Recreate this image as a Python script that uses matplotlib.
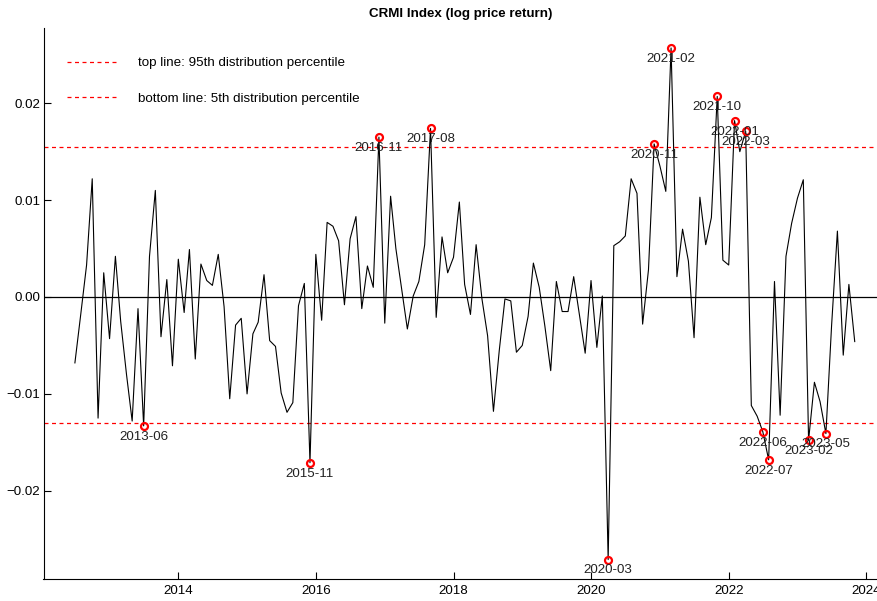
import numpy as np
import pandas as pd
import matplotlib
matplotlib.use("Agg")
import matplotlib.pyplot as plt
import matplotlib.dates as mdates
from matplotlib.ticker import FuncFormatter

# ---------------- data ----------------
start_month = "2012-06"
n_months = 137
returns = [
    -0.0068, -0.0018, 0.0033, 0.0122, -0.0125, 0.0025, -0.0043,            # 2012-06 .. 2012-12
    0.0042, -0.0025, -0.0080, -0.0128, -0.0012, -0.0133, 0.0042, 0.0110,   # 2013-01 .. 2013-08
    -0.0041, 0.0018, -0.0071, 0.0039,                                        # 2013-09 .. 2013-12
    -0.0016, 0.0049, -0.0064, 0.0034, 0.0017, 0.0012, 0.0044, -0.0010,     # 2014-01 .. 2014-08
    -0.0105, -0.0029, -0.0022, -0.0100,                                      # 2014-09 .. 2014-12
    -0.0038, -0.0026, 0.0023, -0.0045, -0.0051, -0.0099, -0.0119, -0.0109, # 2015-01 .. 2015-08
    -0.0009, 0.0014, -0.0171, 0.0044,                                        # 2015-09 .. 2015-12
    -0.0024, 0.0077, 0.0073, 0.0058, -0.0008, 0.0060, 0.0083, -0.0012,     # 2016-01 .. 2016-08
    0.0032, 0.0010, 0.0165, -0.0027,                                         # 2016-09 .. 2016-12
    0.0104, 0.0050, 0.0008, -0.0033, 0.0001, 0.0016, 0.0054, 0.0174,       # 2017-01 .. 2017-08
    -0.0021, 0.0062, 0.0025, 0.0041,                                         # 2017-09 .. 2017-12
    0.0098, 0.0013, -0.0018, 0.0054, -0.0002, -0.0040, -0.0118, -0.0055,   # 2018-01 .. 2018-08
    -0.0002, -0.0004, -0.0057, -0.0050,                                      # 2018-09 .. 2018-12
    -0.0020, 0.0035, 0.0010, -0.0030, -0.0076, 0.0016, -0.0015, -0.0015,   # 2019-01 .. 2019-08
    0.0021, -0.0019, -0.0058, 0.0017,                                        # 2019-09 .. 2019-12
    -0.0052, 0.0001, -0.0271, 0.0053, 0.0057, 0.0063, 0.0122, 0.0107,      # 2020-01 .. 2020-08
    -0.0028, 0.0028, 0.0158, 0.0135,                                         # 2020-09 .. 2020-12
    0.0109, 0.0257, 0.0021, 0.0070, 0.0037, -0.0042, 0.0103, 0.0054,       # 2021-01 .. 2021-08
    0.0082, 0.0207, 0.0038, 0.0033,                                          # 2021-09 .. 2021-12
    0.0182, 0.0150, 0.0171, -0.0112, -0.0123, -0.0139, -0.0168, 0.0016,    # 2022-01 .. 2022-08
    -0.0122, 0.0042, 0.0076, 0.0102,                                         # 2022-09 .. 2022-12
    0.0121, -0.0148, -0.0088, -0.0108, -0.0141, -0.0030, 0.0068, -0.0060,  # 2023-01 .. 2023-08
    0.0013, -0.0046,                                                         # 2023-09 .. 2023-10
]
upper_pct = 0.01551   # 95th distribution percentile
lower_pct = -0.01297  # 5th distribution percentile
title = "CRMI Index (log price return)"
legend_labels = ["top line: 95th distribution percentile",
                 "bottom line: 5th distribution percentile"]
year_ticks = [2014, 2016, 2018, 2020, 2022, 2024]
y_ticks = [-0.02, -0.01, 0.0, 0.01, 0.02]

# ---------------- plot ----------------
plt.rcParams['font.family'] = ['Liberation Sans', 'DejaVu Sans']
FS = 9.6

dates = pd.date_range(start=start_month, periods=n_months, freq="ME")
vals = np.array(returns)

W, H = 877, 601
fig = plt.figure(figsize=(W / 100, H / 100), dpi=100)
ax_left, ax_right, ax_top, ax_bottom = 43.5, 877, 28, 579
ax = fig.add_axes([ax_left / W, (H - ax_bottom) / H,
                   (ax_right - ax_left) / W, (ax_bottom - ax_top) / H])

ax.plot(dates, vals, color="black", lw=0.8, zorder=3)
ax.axhline(0, color="black", lw=0.9, zorder=2)
ax.axhline(upper_pct, color="#ff0000", lw=0.9, ls=(0, (3.2, 2.8)),
           label=legend_labels[0], zorder=2)
ax.axhline(lower_pct, color="#ff0000", lw=0.9, ls=(0, (3.2, 2.8)),
           label=legend_labels[1], zorder=2)

mask = (vals > upper_pct) | (vals < lower_pct)
ax.plot(dates[mask], vals[mask], ls="none", marker="o", ms=5, mfc="none",
        mec="red", mew=1.6, zorder=4)
for d, v in zip(dates[mask], vals[mask]):
    ax.annotate(d.strftime("%Y-%m"), (mdates.date2num(d), v), xytext=(0, -3.5),
                textcoords="offset points", ha="center", va="top",
                fontsize=FS, color="#222222", zorder=5)

# axis limits (2014-01-01 at x=178.5 px, 68.8 px per year)
ppd = 68.8 / 365.25
x0 = mdates.date2num(pd.Timestamp("2014-01-01"))
ax.set_xlim(x0 - (178.5 - ax_left) / ppd, x0 + (ax_right - 178.5) / ppd)
ppu = 96.9 / 0.01
ax.set_ylim(-(ax_bottom - 297) / ppu, (297 - ax_top) / ppu)

ax.set_xticks([mdates.date2num(pd.Timestamp(f"{y}-01-01")) for y in year_ticks])
ax.xaxis.set_major_formatter(mdates.DateFormatter("%Y"))
ax.set_yticks(y_ticks)
ax.yaxis.set_major_formatter(FuncFormatter(lambda v, p: f"{v:.2f}".replace("-", "\u2212")))

for s in ["top", "right"]:
    ax.spines[s].set_visible(False)
for s in ["left", "bottom"]:
    ax.spines[s].set_linewidth(0.8)
ax.tick_params(axis="both", direction="in", length=5, width=0.8, labelsize=FS,
               colors="black")
ax.tick_params(axis="y", pad=2.5)
ax.tick_params(axis="x", pad=4.5)

ax.set_title(title, fontsize=FS, fontweight="bold", pad=8)

ax.legend(loc="upper left", bbox_to_anchor=((67 - ax_left) / (ax_right - ax_left),
                                            (ax_bottom - 57) / (ax_bottom - ax_top)),
          frameon=False, fontsize=FS, handlelength=3.75, handletextpad=1.6,
          labelspacing=1.72, borderpad=0, borderaxespad=0)

fig.savefig("out.png", dpi=100)
